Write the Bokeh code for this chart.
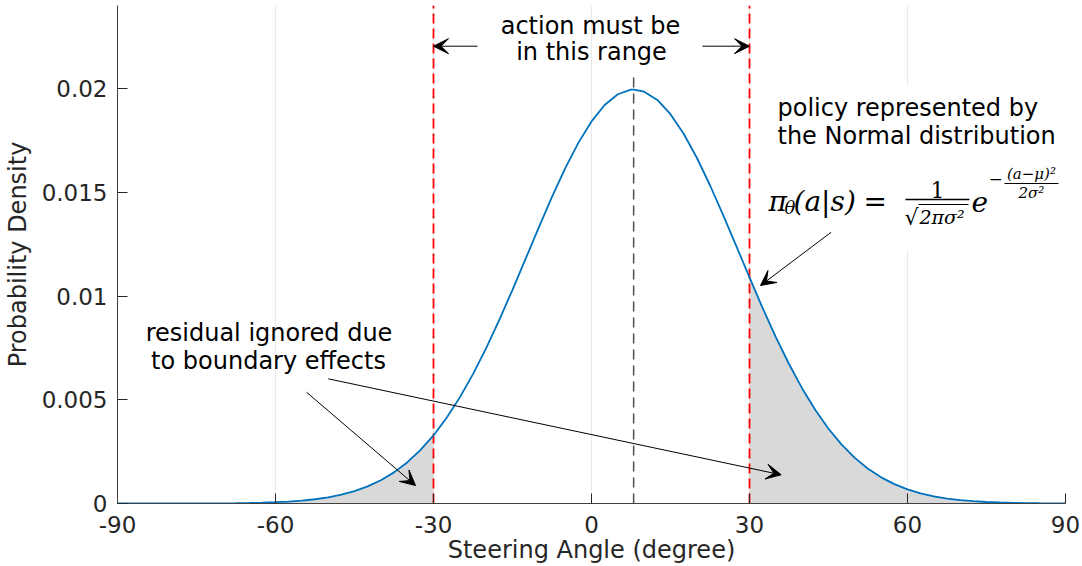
from bokeh.plotting import figure
from bokeh.models import Range1d, FixedTicker, Label, Arrow, VeeHead, BoxAnnotation
from bokeh.embed import file_html
from bokeh.resources import INLINE

# ---------------- data ----------------
angle = [-90, -87.5, -85, -82.5, -80, -77.5, -75, -72.5, -70, -67.5, -65, -62.5,
         -60, -57.5, -55, -52.5, -50, -47.5, -45, -42.5, -40, -37.5, -35, -32.5,
         -30, -27.5, -25, -22.5, -20, -17.5, -15, -12.5, -10, -7.5, -5, -2.5,
         0, 2.5, 5, 7.5, 8, 10, 12.5, 15, 17.5, 20, 22.5, 25, 27.5,
         30, 32.5, 35, 37.5, 40, 42.5, 45, 47.5, 50, 52.5, 55, 57.5,
         60, 62.5, 65, 67.5, 70, 72.5, 75, 77.5, 80, 82.5, 85, 87.5, 90]
density = [1.2e-7, 2.2e-7, 4.0e-7, 7.1e-7, 1.25e-6, 2.15e-6, 3.63e-6, 6.05e-6, 9.9e-6, 1.60e-5, 2.55e-5, 3.99e-5,
           6.16e-5, 9.35e-5, 1.397e-4, 2.055e-4, 2.976e-4, 4.245e-4, 5.957e-4, 8.228e-4, 1.1196e-3, 1.4996e-3, 1.978e-3, 2.568e-3,
           3.281e-3, 4.129e-3, 5.115e-3, 6.236e-3, 7.486e-3, 8.849e-3, 0.010297, 0.011797, 0.013305, 0.014773, 0.016149, 0.017380,
           0.018413, 0.019207, 0.019724, 0.019941, 0.019947, 0.019848, 0.019448, 0.018762, 0.017819, 0.016662, 0.015337, 0.013899, 0.012401,
           0.010893, 0.009419, 0.008019, 0.006722, 0.005545, 0.004506, 0.003603, 0.002837, 0.002200, 0.001678, 0.001261, 9.325e-4,
           6.79e-4, 4.87e-4, 3.44e-4, 2.39e-4, 1.633e-4, 1.10e-4, 7.29e-5, 4.76e-5, 3.06e-5, 1.94e-5, 1.20e-5, 7.4e-6, 4.5e-6]
bounds = [-30, 30]
mean_angle = [8]
x_ticks = [-90, -60, -30, 0, 30, 60, 90]
x_tick_labels = ["-90", "-60", "-30", "0", "30", "60", "90"]
y_ticks = [0, 0.005, 0.01, 0.015, 0.02]
y_tick_labels = ["0", "0.005", "0.01", "0.015", "0.02"]
x_title = "Steering Angle (degree)"
y_title = "Probability Density"

# ---------------- layout helpers (pixel -> data) ----------------
def px2x(px):
    return (px - 591) / 5.267

def py2y(py):
    return (503 - py) / 20750

W, H = 1082, 566
p = figure(width=W, height=H, x_range=Range1d(-90, 90), y_range=Range1d(0, 0.024),
           output_backend="svg", toolbar_location=None,
           min_border_left=117, min_border_right=17, min_border_top=5, min_border_bottom=63)
p.outline_line_color = None
p.background_fill_color = "white"
p.border_fill_color = "white"

# axes
for ax in (p.xaxis, p.yaxis):
    ax.major_tick_in = 10
    ax.major_tick_out = 0
    ax.minor_tick_line_color = None
    ax.axis_line_color = "#404040"
    ax.major_tick_line_color = "#262626"
    ax.major_label_text_color = "#262626"
    ax.major_label_text_font = "DejaVu Sans"
    ax.major_label_text_font_size = "23px"
    ax.major_label_text_line_height = 1.0
    ax.axis_label_text_font = "DejaVu Sans"
    ax.axis_label_text_font_size = "24px"
    ax.axis_label_text_font_style = "normal"
    ax.axis_label_text_color = "#262626"
    ax.axis_label_text_line_height = 1.0
p.xaxis.major_label_standoff = 12
p.yaxis.major_label_standoff = 10
p.xaxis.axis_label = x_title
p.yaxis.axis_label = y_title
p.xaxis.axis_label_standoff = 0
p.yaxis.axis_label_standoff = 7
p.xaxis.ticker = FixedTicker(ticks=x_ticks)
p.yaxis.ticker = FixedTicker(ticks=y_ticks)
p.xaxis.major_label_overrides = {t: s for t, s in zip(x_ticks, x_tick_labels)}
p.yaxis.major_label_overrides = {t: s for t, s in zip(y_ticks, y_tick_labels)}

p.xgrid.ticker = FixedTicker(ticks=x_ticks)
p.xgrid.grid_line_color = "#e9e9e9"
p.ygrid.visible = False

# shaded residual areas
lx = [a for a in angle if a <= bounds[0]]
ly = [d for a, d in zip(angle, density) if a <= bounds[0]]
rx = [a for a in angle if a >= bounds[1]]
ry = [d for a, d in zip(angle, density) if a >= bounds[1]]
p.varea(x=lx, y1=[0] * len(lx), y2=ly, fill_color="#d9d9d9")
p.varea(x=rx, y1=[0] * len(rx), y2=ry, fill_color="#d9d9d9")

# white box behind the formula text
p.add_layout(BoxAnnotation(left=px2x(765), right=px2x(1075), top=py2y(85), bottom=py2y(250),
                           fill_color="white", fill_alpha=1, line_color=None, level="underlay"))

# boundary lines and mean line
p.segment(x0=bounds, y0=[0, 0], x1=bounds, y1=[0.024, 0.024],
          line_color="#ff0000", line_width=1.8, line_dash="10 5")
p.segment(x0=mean_angle, y0=[0], x1=mean_angle, y1=[py2y(72)],
          line_color="#4d4d4d", line_width=1.5, line_dash="10 6")

# curve
p.line(angle, density, line_color="#0072BD", line_width=1.8)

# ---------------- annotations ----------------
DY = 6  # labels render slightly below their nominal baseline

def lab(text, px, py, size=24, font="DejaVu Sans", style="normal", align="left",
        baseline="alphabetic", color="black", ang=0.0):
    p.add_layout(Label(x=px2x(px), y=py2y(py - DY), text=text, text_font=font,
                       text_font_size=f"{size}px", text_font_style=style,
                       text_align=align, text_baseline=baseline, text_color=color, angle=ang))

def arrow(x0, y0, x1, y1):
    p.add_layout(Arrow(end=VeeHead(size=15, fill_color="black", line_color="black", line_width=1),
                       x_start=px2x(x0), y_start=py2y(y0), x_end=px2x(x1), y_end=py2y(y1),
                       line_color="black", line_width=1))

def bar(x0, x1, y, th=1.5):
    p.add_layout(BoxAnnotation(left=px2x(x0), right=px2x(x1), top=py2y(y - th / 2), bottom=py2y(y + th / 2),
                               fill_color="black", fill_alpha=1, line_color=None))

# range text + arrows
lab("action must be", 590, 31, align="center")
lab("in this range", 591, 57, align="center")
arrow(477, 45.7, 433, 45.7)
arrow(702, 45.7, 749, 45.7)

# policy text
lab("policy represented by", 777, 113)
lab("the Normal distribution", 777, 141.5)

# formula
SER = "DejaVu Serif"
lab("π", 768, 207, size=28, font=SER, style="italic")
lab("θ", 784, 213, size=18, font=SER, style="italic")
lab("(a|s)", 793, 207, size=28, font=SER, style="italic")
lab("=", 863, 207, size=28, font=SER)
lab("1", 937, 195, size=22, font=SER, align="center")
bar(905, 969, 199)
lab("√", 904, 223, size=22, font=SER)
bar(918, 968, 204, th=1.0)
lab("2πσ²", 919, 222, size=19, font=SER, style="italic")
lab("e", 971, 207, size=28, font=SER, style="italic")
lab("−", 988, 184, size=17, font=SER)
lab("(a−μ)²", 1031, 179, size=15, font=SER, style="italic", align="center")
bar(1004, 1058, 183, th=1.2)
lab("2σ²", 1031, 198, size=15, font=SER, style="italic", align="center")
arrow(830.7, 231.7, 760, 285)

# residual text + arrows
lab("residual ignored due", 268.5, 338, align="center")
lab("to boundary effects", 268, 366, align="center")
arrow(306, 391.7, 415, 485)
arrow(327.7, 378.3, 780.7, 474.3)

open("out.html", "w").write(file_html(p, INLINE))
